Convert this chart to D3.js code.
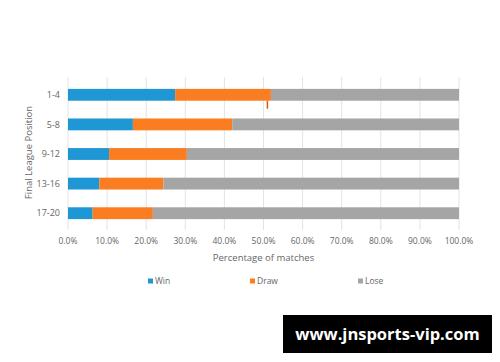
<!DOCTYPE html>
<html>
<head>
<meta charset="utf-8">
<script src="https://cdn.jsdelivr.net/npm/d3@7"></script>
<style>
  body { margin: 0; background: #fff; }
  svg { display: block; font-family: "Open Sans", "Noto Sans", sans-serif; }
</style>
</head>
<body>
<svg id="chart" width="500" height="362"></svg>
<script>
// Chart data
const positions = ["1-4", "5-8", "9-12", "13-16", "17-20"];
const winPct = [27.4, 16.6, 10.5, 8.0, 6.3];
const drawPct = [24.5, 25.4, 19.9, 16.4, 15.4];
const losePct = [48.1, 58.0, 69.6, 75.6, 78.3];
const seriesNames = ["Win", "Draw", "Lose"];
const seriesColors = ["#1f97d4", "#fb7d21", "#a5a5a5"];
const xTicks = [0, 10, 20, 30, 40, 50, 60, 70, 80, 90, 100];
// stray error-bar mark under the top bar
const markerPct = [51.0];

const svg = d3.select("#chart");
const margin = { left: 68, right: 41, top: 77, bottom: 134 };
const width = +svg.attr("width");
const height = +svg.attr("height");

const x = d3.scaleLinear().domain([0, 100]).range([margin.left, width - margin.right]);
const y = d3.scaleBand().domain(positions).range([margin.top + 3, height - margin.bottom]).paddingInner(0.6).paddingOuter(0.3);

// Gridlines
svg.append("g")
    .selectAll("line")
    .data(xTicks)
    .join("line")
    .attr("x1", d => x(d)).attr("x2", d => x(d))
    .attr("y1", margin.top).attr("y2", height - margin.bottom + 2)
    .attr("stroke", "#e3e3e3")
    .attr("stroke-width", 1);

// Stack the series
const rows = positions.map((p, i) => ({ pos: p, Win: winPct[i], Draw: drawPct[i], Lose: losePct[i] }));
const stack = d3.stack().keys(seriesNames)(rows);

svg.append("g")
    .selectAll("g")
    .data(stack)
    .join("g")
    .attr("fill", (d, i) => seriesColors[i])
    .selectAll("rect")
    .data(d => d)
    .join("rect")
    .attr("x", d => x(d[0]))
    .attr("width", d => x(d[1]) - x(d[0]))
    .attr("y", d => y(d.data.pos))
    .attr("height", y.bandwidth());

// Little error-bar tick
svg.append("g")
    .selectAll("line")
    .data(markerPct)
    .join("line")
    .attr("x1", d => x(d)).attr("x2", d => x(d))
    .attr("y1", y(positions[0]) + y.bandwidth())
    .attr("y2", y(positions[0]) + y.bandwidth() + 8)
    .attr("stroke", "#d9541e")
    .attr("stroke-width", 1.5);

// Category labels
svg.append("g")
    .selectAll("text")
    .data(positions)
    .join("text")
    .attr("x", margin.left - 8)
    .attr("y", d => y(d) + y.bandwidth() / 2)
    .attr("dy", "0.35em")
    .attr("text-anchor", "end")
    .attr("font-size", 9)
    .attr("fill", "#666")
    .text(d => d);

// X tick labels
svg.append("g")
    .selectAll("text")
    .data(xTicks)
    .join("text")
    .attr("x", d => x(d))
    .attr("y", height - margin.bottom + 16)
    .attr("text-anchor", "middle")
    .attr("font-size", 8.5)
    .attr("fill", "#666")
    .text(d => d3.format(".1f")(d) + "%");

// Axis titles
svg.append("text")
    .attr("x", (margin.left + width - margin.right) / 2)
    .attr("y", height - margin.bottom + 33)
    .attr("text-anchor", "middle")
    .attr("font-size", 9.5)
    .attr("fill", "#666")
    .text("Percentage of matches");

svg.append("text")
    .attr("transform", `translate(32,${(margin.top + height - margin.bottom) / 2}) rotate(-90)`)
    .attr("text-anchor", "middle")
    .attr("font-size", 9.5)
    .attr("fill", "#666")
    .text("Final League Position");

// Legend
const legendX = [148, 250, 358];
const legend = svg.append("g")
    .selectAll("g")
    .data(seriesNames)
    .join("g")
    .attr("transform", (d, i) => `translate(${legendX[i]},${height - margin.bottom + 55})`);
legend.append("rect")
    .attr("width", 5).attr("height", 5).attr("y", -4.5)
    .attr("fill", (d, i) => seriesColors[i]);
legend.append("text")
    .attr("x", 7)
    .attr("y", 1)
    .attr("font-size", 8.5)
    .attr("fill", "#666")
    .text(d => d);

// Watermark box
svg.append("rect")
    .attr("x", 283).attr("y", 315)
    .attr("width", 209).attr("height", 38)
    .attr("fill", "#000");
svg.append("text")
    .attr("x", 387.5).attr("y", 340)
    .attr("text-anchor", "middle")
    .attr("font-size", 16.5)
    .attr("font-weight", "bold")
    .attr("fill", "#fff")
    .text("www.jnsports-vip.com");
</script>
</body>
</html>
